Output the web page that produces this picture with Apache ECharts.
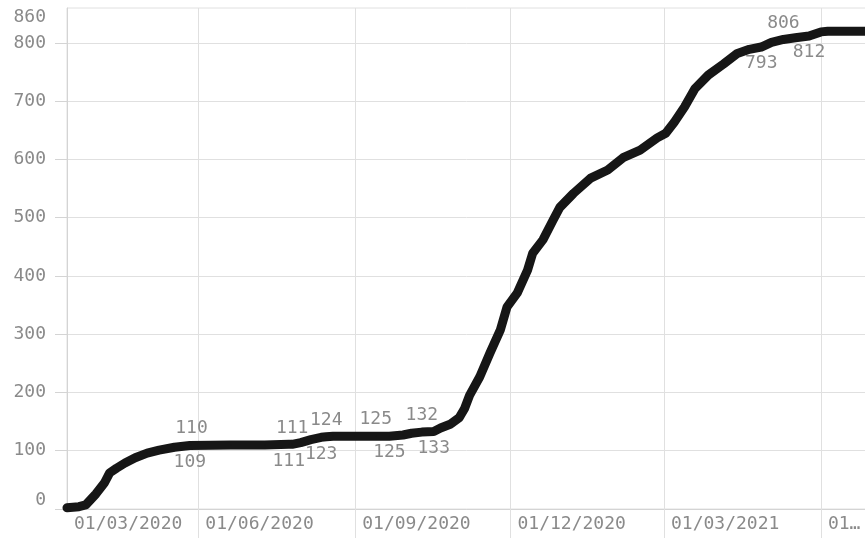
<!DOCTYPE html>
<html>
<head>
<meta charset="utf-8">
<script src="https://cdn.jsdelivr.net/npm/echarts@6/dist/echarts.min.js"></script>
<style>
  html, body { margin: 0; padding: 0; background: #fff; }
  #chart { width: 865px; height: 538px; }
</style>
</head>
<body>
<div id="chart"></div>
<script>
// 数据
var dates = [
    '2020-03-16', '2020-03-23', '2020-03-27', '2020-04-02', '2020-04-07', '2020-04-10',
    '2020-04-14', '2020-04-19', '2020-04-25', '2020-05-02', '2020-05-09', '2020-05-18',
    '2020-05-27', '2020-05-28', '2020-06-20', '2020-07-10', '2020-07-24', '2020-07-26',
    '2020-07-31', '2020-08-06', '2020-08-12', '2020-08-15', '2020-08-19', '2020-09-01',
    '2020-09-13', '2020-09-21', '2020-09-29', '2020-10-04', '2020-10-10', '2020-10-17',
    '2020-10-21', '2020-10-27', '2020-11-01', '2020-11-04', '2020-11-07', '2020-11-13',
    '2020-11-19', '2020-11-25', '2020-11-29', '2020-12-05', '2020-12-11', '2020-12-14',
    '2020-12-20', '2020-12-26', '2020-12-30', '2021-01-07', '2021-01-17', '2021-01-27',
    '2021-02-05', '2021-02-15', '2021-02-25', '2021-03-02', '2021-03-07', '2021-03-13',
    '2021-03-19', '2021-03-27', '2021-04-05', '2021-04-13', '2021-04-20', '2021-04-27',
    '2021-05-03', '2021-05-10', '2021-05-17', '2021-05-25', '2021-06-01', '2021-06-05',
    '2021-06-28'
];
var values = [
    2, 4, 7, 26, 45, 62,
    70, 79, 88, 96, 101, 106,
    109, 110, 110, 110, 111, 111,
    114, 119, 123, 124, 125, 125,
    125, 125, 127, 130, 132, 133,
    139, 146, 157, 172, 195, 227,
    268, 307, 347, 371, 410, 439,
    462, 496, 518, 542, 568, 582,
    603, 616, 637, 645, 664, 690,
    721, 745, 764, 782, 789, 793,
    801, 806, 809, 812, 819, 820,
    820
];
var labelsTop = ['2020-05-28', '2020-07-26', '2020-08-15', '2020-09-13', '2020-10-10', '2021-05-10'];
var labelsBottom = ['2020-05-27', '2020-07-24', '2020-08-12', '2020-09-21', '2020-10-17', '2021-04-27', '2021-05-25'];
var xTicks = ['2020-06-01', '2020-09-01', '2020-12-01', '2021-03-01', '2021-06-01'];
var xMin = '2020-03-16';
var xMax = '2021-06-28';
var yTicks = [0, 100, 200, 300, 400, 500, 600, 700, 800];
var yMax = 860;

(function() {
    var myChart = echarts.init(document.getElementById('chart'));
    var font = 'DejaVu Sans Mono';
    var textColor = '#8a8a8a';
    var gridColor = '#e0e0e0';

    function pad(n) { return n < 10 ? '0' + n : '' + n; }
    function ts(s) { return echarts.time.parse(s).getTime(); }

    var seriesData = dates.map(function(d, i) {
        var item = { value: [ts(d), values[i]] };
        if (labelsTop.indexOf(d) > -1) item.label = { show: true, position: 'top' };
        if (labelsBottom.indexOf(d) > -1) item.label = { show: true, position: 'bottom' };
        return item;
    });

    var xTickTs = xTicks.map(ts);
    var lastTick = xTickTs[xTickTs.length - 1];

    var option = {
        animation: false,
        backgroundColor: '#fff',
        grid: {
            left: 67,
            right: -2,
            top: 8,
            bottom: 29,
            show: true,
            borderColor: gridColor,
            borderWidth: 1,
            containLabel: false,
            outerBoundsMode: 'none'
        },
        xAxis: {
            type: 'value',
            min: ts(xMin),
            max: ts(xMax),
            axisLine: { lineStyle: { color: '#d4d4d4' } },
            axisTick: {
                customValues: xTickTs,
                length: 29,
                lineStyle: { color: gridColor }
            },
            splitLine: { show: true, lineStyle: { color: gridColor } },
            axisLabel: {
                customValues: [ts(xMin)].concat(xTickTs),
                align: 'left',
                padding: [0, 0, 0, 7],
                margin: 6,
                color: textColor,
                fontFamily: font,
                fontSize: 18,
                formatter: function(v) {
                    var d = new Date(v);
                    if (v >= lastTick) return '01…';
                    return '01/' + pad(d.getMonth() + 1) + '/' + d.getFullYear();
                }
            }
        },
        yAxis: {
            type: 'value',
            min: 0,
            max: yMax,
            axisLine: { show: true, lineStyle: { color: '#d4d4d4' } },
            axisTick: {
                show: true,
                customValues: yTicks,
                length: 12,
                lineStyle: { color: '#d4d4d4' }
            },
            splitLine: { show: true, lineStyle: { color: gridColor } },
            axisLabel: {
                customValues: yTicks.concat([yMax]),
                margin: 21,
                color: textColor,
                fontFamily: font,
                fontSize: 18,
                verticalAlignMinLabel: 'bottom',
                verticalAlignMaxLabel: 'top'
            }
        },
        series: [{
            type: 'line',
            data: seriesData,
            clip: false,
            symbol: 'circle',
            symbolSize: 1,
            showSymbol: true,
            itemStyle: { color: '#161616' },
            lineStyle: { width: 9, color: '#161616', cap: 'round', join: 'round' },
            label: {
                show: false,
                distance: 7,
                color: textColor,
                fontFamily: font,
                fontSize: 18,
                formatter: function(p) { return p.value[1]; }
            },
            emphasis: { disabled: true }
        }]
    };
    myChart.setOption(option);
})();
</script>
</body>
</html>
